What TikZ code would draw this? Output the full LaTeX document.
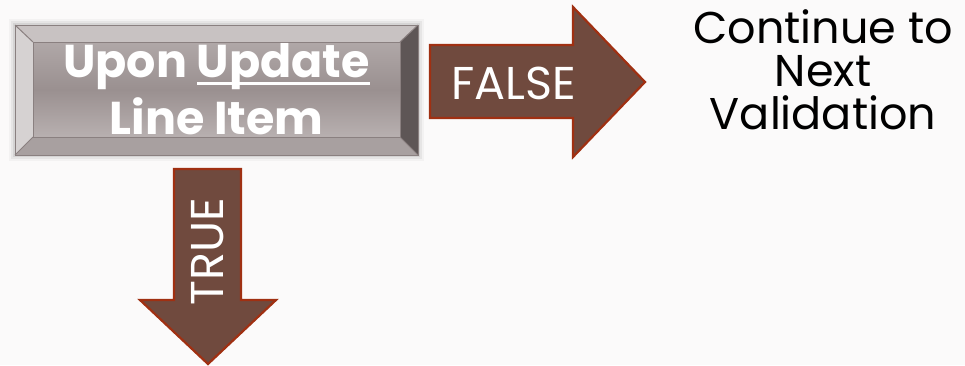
\documentclass[tikz,border=0pt]{standalone}
\usepackage{fontspec}
\setmainfont{Poppins}
\usetikzlibrary{calc,positioning}
\definecolor{paper}{RGB}{251,250,250}
\definecolor{arrowfill}{RGB}{112,74,62}
\definecolor{arrowedge}{RGB}{160,48,18}
\definecolor{facetop}{RGB}{176,168,168}
\definecolor{facemid}{RGB}{154,144,144}
\definecolor{facebot}{RGB}{184,176,176}
\definecolor{bevtop}{RGB}{200,194,194}
\definecolor{bevleft}{RGB}{214,210,210}
\definecolor{bevbot}{RGB}{168,160,160}
\definecolor{bevright}{RGB}{94,86,86}
\definecolor{bevline}{RGB}{138,128,128}
% thick underline close under the word
\newcommand{\thickul}[1]{\leavevmode\setbox0\hbox{#1}\rlap{\rule[-7pt]{\wd0}{2.6pt}}\box0}

\begin{document}
\begin{tikzpicture}[x=1pt, y=-1pt,
  bevelface/.style={draw=bevline, line width=1pt, top color=facetop, bottom color=facebot, middle color=facemid,
    minimum width=367pt, minimum height=95pt, inner sep=0pt, align=center, text=white,
    font=\fontsize{46}{57}\selectfont\bfseries},
  bevel/.style={draw=bevline, line width=1pt, line join=miter},
  blockarrow/.style={fill=arrowfill, draw=arrowedge, line width=2.2pt, line join=miter},
  arrowtext/.style={text=white, inner sep=0pt, font=\fontsize{46}{46}\selectfont},
  plaintext/.style={text=black, align=center, inner sep=0pt, font=\fontsize{44.5}{43}\selectfont}
]
\fill[paper] (0,0) rectangle (965,365);
\useasboundingbox (0,0) rectangle (965,365);

% soft shadow round the button
\foreach \d/\o in {6/0.03,4/0.05,2/0.07}
  \fill[black, opacity=\o] (15-\d,25-\d) rectangle (418+\d,155+\d);

% bevelled button
\fill[bevtop] (15,25) -- (418,25) -- (400,42) -- (33,42) -- cycle;
\fill[bevleft] (15,25) -- (33,42) -- (33,137) -- (15,155) -- cycle;
\fill[bevbot] (15,155) -- (33,137) -- (400,137) -- (418,155) -- cycle;
\fill[bevright] (418,25) -- (400,42) -- (400,137) -- (418,155) -- cycle;
\draw[bevel] (15,25) rectangle (418,155);
\draw[bevel] (15,25) -- (33,42) (418,25) -- (400,42) (15,155) -- (33,137) (418,155) -- (400,137);
\node[bevelface] (upd) at (216.5,89.5) {Upon \thickul{Update}\\Line Item};

% FALSE arrow
\draw[blockarrow] (430,45) -- (573,45) -- (573,7) -- (645,82) -- (573,157) -- (573,118) -- (430,118) -- cycle;
\node[arrowtext] (lblfalse) at (514,83) {FALSE};

% TRUE arrow
\draw[blockarrow] (174,169) -- (241,169) -- (241,300) -- (276,300) -- (208,364) -- (140,300) -- (174,300) -- cycle;
\node[arrowtext, rotate=90] (lbltrue) at (208,252) {TRUE};

\node[plaintext] (nextval) at (823,70) {Continue to\\Next\\Validation};
\end{tikzpicture}
\end{document}
